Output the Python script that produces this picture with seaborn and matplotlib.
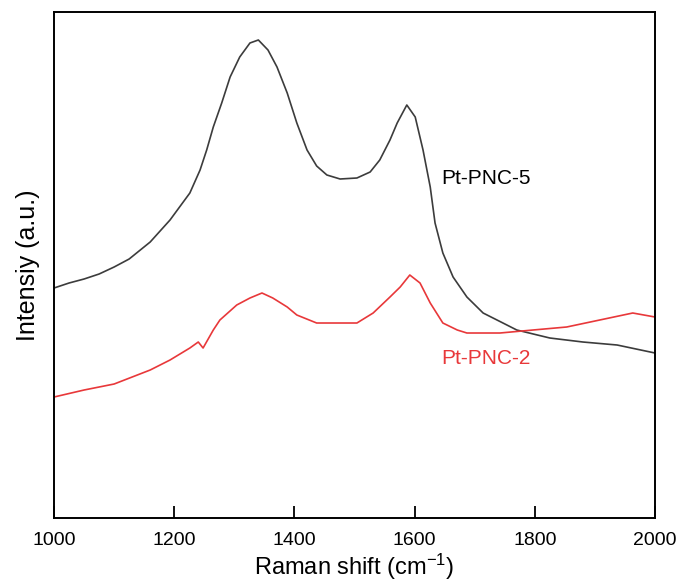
import numpy as np
import pandas as pd
import matplotlib
matplotlib.use("Agg")
import matplotlib.pyplot as plt
import seaborn as sns

# Raman spectra (arbitrary intensity units)
shift_pnc5 = [1000, 1025, 1050, 1075, 1100, 1125, 1160, 1193, 1226, 1243, 1254,
              1265, 1279, 1293, 1309, 1326, 1340, 1356, 1371, 1388, 1404, 1421,
              1437, 1454, 1476, 1504, 1526, 1542, 1559, 1571, 1587, 1601, 1614,
              1626, 1634, 1647, 1664, 1687, 1714, 1747, 1770, 1825, 1880, 1937,
              2000]
int_pnc5 = [230, 235, 239, 244, 251, 259, 276, 298, 325, 348, 368,
            391, 415, 441, 461, 475, 478, 468, 451, 425, 395, 368,
            352, 343, 339, 340, 346, 358, 378, 395, 413, 401, 368,
            331, 295, 265, 241, 221, 205, 195, 188, 180, 176, 173,
            165]

shift_pnc2 = [1000, 1050, 1100, 1160, 1193, 1226, 1240, 1248, 1265, 1276, 1304,
              1326, 1346, 1364, 1388, 1404, 1437, 1464, 1504, 1531, 1559, 1576,
              1592, 1609, 1626, 1647, 1671, 1687, 1742, 1797, 1853, 1908, 1963,
              2000]
int_pnc2 = [121, 128, 134, 148, 158, 170, 176, 170, 188, 198, 213,
            220, 225, 220, 211, 203, 195, 195, 195, 205, 221, 231,
            243, 235, 215, 195, 188, 185, 185, 188, 191, 198, 205,
            201]

labels = ["Pt-PNC-5", "Pt-PNC-2"]
colors = ["#3c3c3c", "#e8383a"]

sns.set_style("ticks")
plt.rcParams["font.family"] = ["Liberation Sans", "DejaVu Sans"]
plt.rcParams["mathtext.default"] = "regular"
plt.rcParams["text.color"] = "black"
plt.rcParams["axes.labelcolor"] = "black"
plt.rcParams["xtick.color"] = "black"

fig = plt.figure(figsize=(6.84, 5.85), dpi=100)
ax = fig.add_axes([0.079, 0.1145, 0.8786, 0.865])

df5 = pd.DataFrame({"shift": shift_pnc5, "intensity": int_pnc5})
df2 = pd.DataFrame({"shift": shift_pnc2, "intensity": int_pnc2})
sns.lineplot(data=df5, x="shift", y="intensity", color=colors[0], lw=1.2, ax=ax)
sns.lineplot(data=df2, x="shift", y="intensity", color=colors[1], lw=1.2, ax=ax)

ax.text(1645, 340, labels[0], color="black", fontsize=15, va="center")
ax.text(1645, 160, labels[1], color=colors[1], fontsize=15, va="center")

ax.set_xlim(1000, 2000)
ax.set_ylim(0, 506)
ax.set_xticks([1000, 1200, 1400, 1600, 1800, 2000])
ax.set_yticks([])
ax.tick_params(axis="x", direction="in", length=9, width=1.3, labelsize=14, pad=10)
for s in ax.spines.values():
    s.set_linewidth(1.4)
    s.set_color("black")

ax.set_xlabel("Raman shift (cm$^{-1}$)", fontsize=17, labelpad=2)
ax.set_ylabel("Intensiy (a.u.)", fontsize=18, labelpad=10)

fig.savefig("out.png", dpi=100)
